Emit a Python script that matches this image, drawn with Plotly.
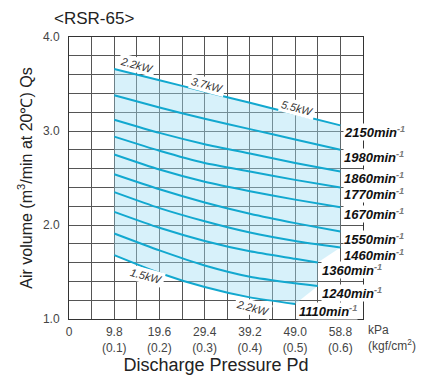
import plotly.graph_objects as go

# Discharge pressure (kPa) sample points along each speed curve
pressure = [9.8, 19.6, 29.4, 39.2, 49.0, 58.8]

# Air volume (m3/min) for each rotor speed (min-1)
q_2150 = [3.66, 3.54, 3.42, 3.30, 3.18, 3.06]
q_1980 = [3.38, 3.25, 3.13, 3.02, 2.91, 2.80]
q_1860 = [3.12, 2.98, 2.86, 2.76, 2.66, 2.57]
q_1770 = [2.94, 2.79, 2.66, 2.57, 2.48, 2.40]
q_1670 = [2.75, 2.59, 2.46, 2.36, 2.27, 2.19]
q_1550 = [2.54, 2.38, 2.24, 2.12, 2.02, 1.93]
q_1460 = [2.35, 2.18, 2.04, 1.92, 1.83, 1.76]
p_1360 = [9.8, 19.6, 29.4, 39.2, 49.0, 53.9]
q_1360 = [2.14, 1.97, 1.83, 1.72, 1.64, 1.60]
p_1240 = [9.8, 19.6, 29.4, 39.2, 49.0, 53.9]
q_1240 = [1.91, 1.73, 1.57, 1.45, 1.38, 1.35]
p_1110 = [9.8, 19.6, 29.4, 39.2, 49.0]
q_1110 = [1.68, 1.49, 1.34, 1.23, 1.16]

speeds = [2150, 1980, 1860, 1770, 1670, 1550, 1460, 1360, 1240, 1110]
curves = [
    (pressure, q_2150), (pressure, q_1980), (pressure, q_1860),
    (pressure, q_1770), (pressure, q_1670), (pressure, q_1550),
    (pressure, q_1460), (p_1360, q_1360), (p_1240, q_1240), (p_1110, q_1110),
]

# Motor power labels placed along the envelope
power_labels = ["2.2kW", "3.7kW", "5.5kW", "1.5kW", "2.2kW"]
power_x = [14.7, 29.9, 49.4, 16.7, 39.9]
power_y = [3.70, 3.49, 3.25, 1.46, 1.12]

x_ticks = [0, 9.8, 19.6, 29.4, 39.2, 49.0, 58.8]
x_ticktext = ["0", "9.8<br>(0.1)", "19.6<br>(0.2)", "29.4<br>(0.3)",
              "39.2<br>(0.4)", "49.0<br>(0.5)", "58.8<br>(0.6)"]
y_ticks = [1.0, 2.0, 3.0, 4.0]
y_ticktext = ["1.0", "2.0", "3.0", "4.0"]

LINE = "#12a8cf"
FONT = "Liberation Sans, Arial, sans-serif"

# Plot area in pixels (used to place text outside the axes)
ML, MR, MT, MB = 69, 60, 37, 55
PLOT_W = 423 - ML - MR
PLOT_H = 382 - MT - MB

fig = go.Figure()

# Shaded operating envelope: top curve, right-hand ends, bottom curve back
top_x, top_y = curves[0]
env_x = list(top_x)
env_y = list(top_y)
for px, qy in curves[1:]:
    env_x.append(px[-1])
    env_y.append(qy[-1])
bx, by = curves[-1]
env_x += list(reversed(bx))
env_y += list(reversed(by))
env_x.append(top_x[0])
env_y.append(top_y[0])
fig.add_trace(go.Scatter(
    x=env_x, y=env_y, mode="lines", fill="toself",
    fillcolor="rgba(160,222,242,0.42)", line=dict(width=0),
    hoverinfo="skip", showlegend=False,
))

for rpm, (px, qy) in zip(speeds, curves):
    fig.add_trace(go.Scatter(
        x=px, y=qy, mode="lines",
        line=dict(color=LINE, width=2, shape="spline", smoothing=0.6),
        name=f"{rpm}", showlegend=False,
    ))
    fig.add_annotation(
        x=px[-1], y=qy[-1], xref="x", yref="y",
        text=f"<b><i>{rpm}min<sup><span style='color:#777'>-1</span></sup></i></b>",
        showarrow=False, xanchor="left", yanchor="middle",
        xshift=3, yshift=-7, bgcolor="white", borderpad=0,
        font=dict(family=FONT, size=13, color="#111"),
    )

for txt, x, y in zip(power_labels, power_x, power_y):
    fig.add_annotation(
        x=x, y=y, xref="x", yref="y", text=f"<i>{txt}</i>",
        showarrow=False, textangle=15, bgcolor="white", borderpad=1,
        font=dict(family=FONT, size=11, color="#333"),
    )

# Model title above the plot
fig.add_annotation(
    x=(52 - ML) / PLOT_W, y=1 + (MT - 18) / PLOT_H, xref="paper", yref="paper",
    text="&lt;RSR-65&gt;", showarrow=False, xanchor="left", yanchor="middle",
    font=dict(family=FONT, size=17, color="#222"),
)

# Unit caption to the right of the last tick
fig.add_annotation(
    x=1.01, y=0, xref="paper", yref="paper",
    text="kPa<br>(kgf/cm<sup>2</sup>)", showarrow=False,
    xanchor="left", yanchor="top", yshift=-2, align="left",
    font=dict(family=FONT, size=12, color="#444"),
)

fig.update_layout(
    width=423, height=382,
    margin=dict(l=ML, r=MR, t=MT, b=MB),
    paper_bgcolor="white", plot_bgcolor="white",
    font=dict(family=FONT, size=12, color="#444"),
    showlegend=False,
    xaxis=dict(
        range=[0, 63.7], tickmode="array", tickvals=x_ticks, ticktext=x_ticktext,
        showgrid=True, gridcolor="#555", gridwidth=1,
        minor=dict(tick0=0, dtick=4.9, showgrid=True, gridcolor="#555", gridwidth=1),
        showline=True, linecolor="#333", linewidth=1, mirror=True,
        ticks="", zeroline=False, ticklabelstandoff=2,
        title=dict(text="Discharge Pressure Pd",
                   font=dict(family=FONT, size=18, color="#222"), standoff=2),
    ),
    yaxis=dict(
        range=[1.0, 4.0], tickmode="array", tickvals=y_ticks, ticktext=y_ticktext,
        showgrid=True, gridcolor="#555", gridwidth=1,
        minor=dict(tick0=1.0, dtick=0.2, showgrid=True, gridcolor="#555", gridwidth=1),
        showline=True, linecolor="#333", linewidth=1, mirror=True,
        ticks="", zeroline=False, ticklabelstandoff=6,
        title=dict(text="Air volume (m<sup>3</sup>/min at 20\u2103) Qs",
                   font=dict(family=FONT, size=16, color="#222"), standoff=6),
    ),
)

fig.write_html("out.html")
